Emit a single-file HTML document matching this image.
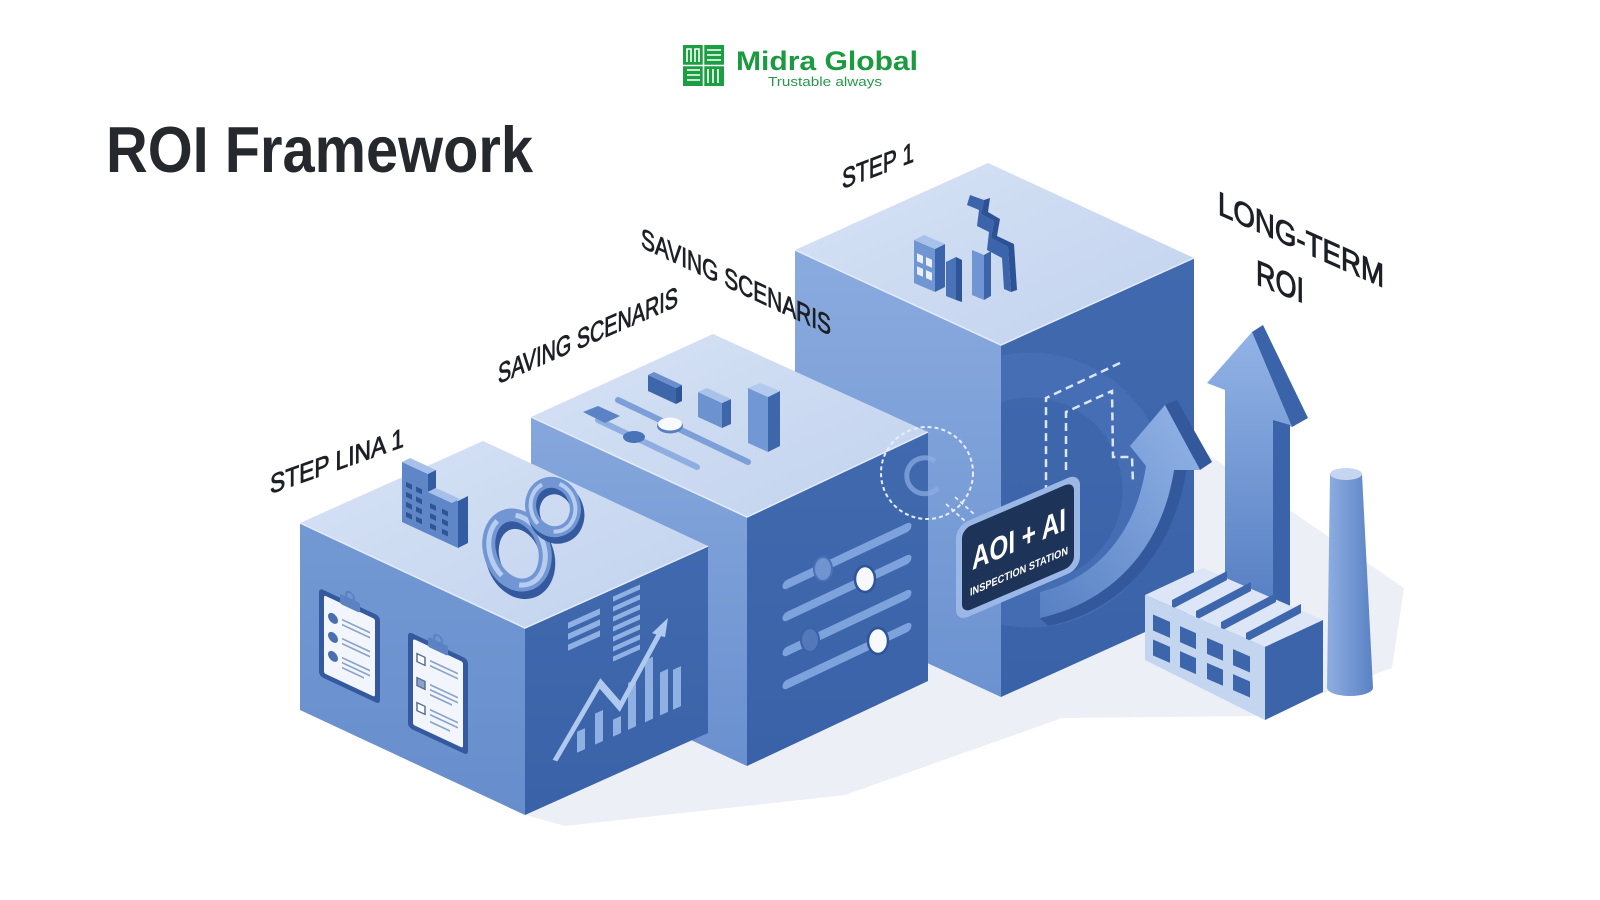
<!DOCTYPE html>
<html><head><meta charset="utf-8">
<style>
html,body{margin:0;padding:0;background:#ffffff;}
svg{display:block}
text{font-family:"Liberation Sans",Arial,sans-serif}
</style></head><body>
<svg width="1600" height="900" viewBox="0 0 1600 900" xmlns="http://www.w3.org/2000/svg">
<defs>
 <linearGradient id="g3l" x1="0" y1="0" x2="0" y2="1"><stop offset="0" stop-color="#8aabdf"/><stop offset="1" stop-color="#6c92d0"/></linearGradient>
 <linearGradient id="g2l" x1="0" y1="0" x2="0" y2="1"><stop offset="0" stop-color="#85a7dc"/><stop offset="1" stop-color="#6a90cf"/></linearGradient>
 <linearGradient id="gtop" x1="0" y1="0" x2="1" y2="1"><stop offset="0" stop-color="#d6e2f5"/><stop offset="1" stop-color="#c2d3ee"/></linearGradient>
 <linearGradient id="gR" x1="0" y1="0" x2="0" y2="1"><stop offset="0" stop-color="#4169ae"/><stop offset="1" stop-color="#3a62a8"/></linearGradient>
 <linearGradient id="gL" x1="0" y1="0" x2="0" y2="1"><stop offset="0" stop-color="#7399d4"/><stop offset="1" stop-color="#678dcc"/></linearGradient>
 <linearGradient id="garrow" x1="0" y1="0" x2="0" y2="1"><stop offset="0" stop-color="#92b3e6"/><stop offset="1" stop-color="#4d77bd"/></linearGradient>
 <linearGradient id="gcurve" x1="0" y1="1" x2="1" y2="0"><stop offset="0" stop-color="#5780c3"/><stop offset="1" stop-color="#93b4e7"/></linearGradient>
 <linearGradient id="gchim" x1="0" y1="0" x2="1" y2="0"><stop offset="0" stop-color="#8eaee1"/><stop offset="1" stop-color="#5a82c5"/></linearGradient>
 <clipPath id="c3r"><polygon points="1001,345 1194,258 1194,610 1001,697"/></clipPath>
</defs>

<!-- Logo -->
<rect x="683" y="45" width="41" height="41" fill="#1c9e43"/>
<g stroke="#ffffff" stroke-width="1.6" fill="none">
 <line x1="703.5" y1="45" x2="703.5" y2="86"/><line x1="683" y1="65.5" x2="724" y2="65.5"/>
 <path d="M687,62 V49 H691 V62 M695,62 V49 H699 V62"/>
 <path d="M707,50 H721 M707,55 H721 M707,60 H721"/>
 <path d="M687,70 H700 M687,75 H700 M687,80 H700"/>
 <path d="M708,69 V83 M713,69 V83 M718,69 V83"/>
</g>
<text x="736" y="70" font-size="27" font-weight="bold" fill="#1a9b40" textLength="182" lengthAdjust="spacingAndGlyphs">Midra Global</text>
<text x="768" y="86" font-size="13" fill="#25994a" textLength="114" lengthAdjust="spacingAndGlyphs">Trustable always</text>

<!-- Title -->
<text x="106" y="172" font-size="65" font-weight="bold" fill="#25292e" textLength="427" lengthAdjust="spacingAndGlyphs">ROI Framework</text>

<!-- Ground shadow -->
<polygon points="525,815 565,826 845,795 1062,718 1260,716 1392,668 1404,588 1194,445 1000,600 525,700" fill="#eceff5"/>

<!-- ===== BOX 3 (tall) ===== -->
<polygon points="795,250 988,163 1194,258 1001,345" fill="url(#gtop)"/>
<polygon points="795,250 1001,345 1001,697 795,602" fill="url(#g3l)"/>
<polygon points="1001,345 1194,258 1194,610 1001,697" fill="url(#gR)"/>
<polyline points="795,250 1001,345 1194,258" fill="none" stroke="#e4ecf9" stroke-width="1.5"/>
<g clip-path="url(#c3r)">
 <circle cx="1030" cy="490" r="115" fill="none" stroke="#4d76bb" stroke-width="45" opacity="0.5"/>
</g>
<!-- skyline on box3 top -->
<g>
 <polygon points="914,240 935,249 935,292 914,283" fill="#6f95d2"/>
 <polygon points="935,249 945,244 945,287 935,292" fill="#3c64aa"/>
 <polygon points="914,240 924,235 945,244 935,249" fill="#a8c1ea"/>
 <g transform="matrix(1,0.43,0,1,914,240)" fill="#e9f0fb">
  <rect x="3" y="12" width="6" height="8"/><rect x="12" y="12" width="6" height="8"/>
  <rect x="3" y="25" width="6" height="8"/><rect x="12" y="25" width="6" height="8"/>
 </g>
 <polygon points="946,262 956,257 956,300 946,296" fill="#4a72b7"/>
 <polygon points="956,257 962,260 962,302 956,300" fill="#2f5597"/>
 <polygon points="972,250 984,255 984,300 972,295" fill="#6f95d2"/>
 <polygon points="984,255 991,251 991,296 984,300" fill="#3c64aa"/>
 <polygon points="970,195 984,200 981,214 994,221 991,238 1008,247 1011,292 1004,289 1002,258 987,250 989,232 977,226 979,210 967,205" fill="#3c64aa"/>
 <polygon points="984,200 990,198 988,212 1000,219 997,236 1014,244 1017,290 1011,292 1008,247 991,238 994,221 981,214" fill="#2c5194"/>
</g>
<!-- dashed paths on box3 right -->
<g fill="none" stroke="#dbe6f7" stroke-width="2.5" stroke-dasharray="8 5">
 <path d="M1120,363 L1046,398 L1046,500"/>
 <path d="M1066,470 L1066,412 L1112,391 L1113,457 L1132,457 L1133,484"/>
</g>
<!-- curved arrow -->
<path d="M1174,470 L1187,466 C1174,560 1112,614 1048,626 L1040,618 C1100,605 1160,560 1174,470 Z" fill="#33589b"/>
<polygon points="1165,405 1177,400 1212,462 1200,470" fill="#33589b"/>
<path d="M1040,618 C1100,605 1160,560 1174,470 L1200,470 L1165,405 L1130,446 L1146,466 C1135,540 1090,580 1040,592 Z" fill="url(#gcurve)"/>

<!-- ===== Long-term arrow, chimney, factory ===== -->
<polygon points="1252,332 1207,383 1225,390 1225,650 1273,650 1273,420 1292,427" fill="url(#garrow)"/>
<polygon points="1252,332 1263,325 1308,418 1292,427" fill="#3a63a9"/>
<polygon points="1273,420 1290,425 1290,650 1273,650" fill="#3a63a9"/>

<path d="M1330,474 L1327,688 A23,8 0 0 0 1373,688 L1362,474 Z" fill="url(#gchim)"/>
<ellipse cx="1346" cy="474" rx="16" ry="6" fill="#c6d6f0"/>

<polygon points="1145,595 1265,647 1323,620 1203,568" fill="#dce6f7"/>
<g fill="#3d66ad">
 <polygon points="1172,600 1227,571 1227,580 1172,609"/>
 <polygon points="1196,611 1251,582 1251,591 1196,620"/>
 <polygon points="1221,622 1276,593 1276,602 1221,631"/>
 <polygon points="1246,633 1301,604 1301,613 1246,642"/>
</g>
<polygon points="1145,595 1265,647 1265,720 1145,660" fill="#c4d5ef"/>
<polygon points="1265,647 1323,620 1323,692 1265,720" fill="#3c64aa"/>
<g transform="matrix(1,0.433,0,1,1145,595)" fill="#3d65ab">
 <rect x="8" y="16" width="17" height="16"/><rect x="35" y="16" width="16" height="16"/><rect x="62" y="16" width="16" height="16"/><rect x="88" y="16" width="17" height="16"/>
 <rect x="8" y="41" width="17" height="16"/><rect x="35" y="41" width="16" height="16"/><rect x="62" y="41" width="16" height="16"/><rect x="88" y="41" width="17" height="16"/>
</g>

<!-- ===== BOX 2 ===== -->
<polygon points="531,417 713,334 928,432 747,517" fill="url(#gtop)"/>
<polygon points="531,417 747,517 747,766 531,666" fill="url(#g2l)"/>
<polygon points="747,517 928,432 928,681 747,766" fill="url(#gR)"/>
<polyline points="531,417 747,517 928,432" fill="none" stroke="#e4ecf9" stroke-width="1.5"/>
<!-- box2 top items -->
<line x1="618" y1="400" x2="748" y2="462" stroke="#7b9fd6" stroke-width="6" stroke-linecap="round"/>
<line x1="598" y1="420" x2="697" y2="467" stroke="#8eaee2" stroke-width="6" stroke-linecap="round"/>
<polygon points="583,412 598,406 620,416 605,423" fill="#5b82c4"/>
<ellipse cx="634" cy="437" rx="11" ry="6" fill="#4a72b8"/>
<ellipse cx="670" cy="426" rx="13" ry="7.5" fill="#5a7fc0"/>
<ellipse cx="670" cy="424" rx="12" ry="6.5" fill="#f8fafd"/>
<polygon points="648,375 676,388 676,404 648,391" fill="#3e66ab"/>
<polygon points="676,388 682,385 682,401 676,404" fill="#2f5596"/>
<polygon points="648,375 654,372 682,385 676,388" fill="#6a8fcc"/>
<polygon points="698,392 722,403 722,428 698,417" fill="#6c92d0"/>
<polygon points="722,403 731,399 731,424 722,428" fill="#3e66ab"/>
<polygon points="698,392 707,388 731,399 722,403" fill="#a9c2ea"/>
<polygon points="748,388 768,397 768,452 748,443" fill="#7198d4"/>
<polygon points="768,397 780,391 780,446 768,452" fill="#3e66ab"/>
<polygon points="748,388 760,383 780,391 768,397" fill="#b3caee"/>
<!-- box2 right sliders -->
<g transform="matrix(1,-0.47,0,1,747,517)" stroke="#7ea3dc" stroke-width="9" stroke-linecap="round">
 <line x1="40" y1="86" x2="160" y2="86"/>
 <line x1="40" y1="118" x2="160" y2="118"/>
 <line x1="40" y1="153" x2="160" y2="153"/>
 <line x1="40" y1="186" x2="160" y2="186"/>
</g>
<ellipse cx="823" cy="569" rx="9" ry="12" fill="#7094cf" stroke="#4a70b5" stroke-width="2"/>
<ellipse cx="865" cy="579" rx="10" ry="13" fill="#f7f9fc" stroke="#2f5596" stroke-width="2.5"/>
<ellipse cx="810" cy="640" rx="9" ry="12" fill="#5478ba" stroke="#3a62a8" stroke-width="2"/>
<ellipse cx="878" cy="641" rx="10" ry="13" fill="#f7f9fc" stroke="#2f5596" stroke-width="2.5"/>

<!-- ===== BOX 1 ===== -->
<polygon points="300,523 483,441 708,546 525,628" fill="url(#gtop)"/>
<polygon points="300,523 525,628 525,815 300,710" fill="url(#gL)"/>
<polygon points="525,628 708,546 708,733 525,815" fill="url(#gR)"/>
<polyline points="300,523 525,628 708,546" fill="none" stroke="#e4ecf9" stroke-width="1.5"/>
<!-- building on box1 top -->
<polygon points="402,462 428,474 428,492 452,503 452,498 458,501 458,548 402,522" fill="#5f86c7"/>
<polygon points="458,501 468,496 468,543 458,548" fill="#345ca2"/>
<polygon points="402,462 410,458 436,470 428,474" fill="#a6c0ea"/>
<polygon points="428,474 436,470 436,488 428,492" fill="#345ca2"/>
<polygon points="428,492 436,488 460,499 452,503" fill="#a6c0ea"/>
<g transform="matrix(1,0.467,0,1,402,466)" fill="#2f5597">
 <rect x="4" y="14" width="6" height="5"/><rect x="14" y="14" width="6" height="5"/>
 <rect x="4" y="24" width="6" height="5"/><rect x="14" y="24" width="6" height="5"/><rect x="28" y="24" width="6" height="5"/><rect x="40" y="24" width="6" height="5"/>
 <rect x="4" y="34" width="6" height="5"/><rect x="14" y="34" width="6" height="5"/><rect x="28" y="34" width="6" height="5"/><rect x="40" y="34" width="6" height="5"/>
 <rect x="4" y="44" width="6" height="5"/><rect x="14" y="44" width="6" height="5"/><rect x="28" y="44" width="6" height="5"/><rect x="40" y="44" width="6" height="5"/>
</g>
<!-- rings -->
<ellipse cx="520" cy="557" rx="27" ry="36" transform="rotate(-20 520 557)" fill="none" stroke="#34599e" stroke-width="14"/>
<ellipse cx="517" cy="550" rx="27" ry="36" transform="rotate(-20 517 550)" fill="none" stroke="#7196d3" stroke-width="13"/>
<ellipse cx="517" cy="550" rx="27" ry="36" transform="rotate(-20 517 550)" fill="none" stroke="#b7cdef" stroke-width="5" stroke-dasharray="60 20"/>
<ellipse cx="556" cy="513" rx="22" ry="25" transform="rotate(-20 556 513)" fill="none" stroke="#34599e" stroke-width="12"/>
<ellipse cx="553" cy="507" rx="22" ry="25" transform="rotate(-20 553 507)" fill="none" stroke="#7196d3" stroke-width="11"/>
<ellipse cx="553" cy="507" rx="22" ry="25" transform="rotate(-20 553 507)" fill="none" stroke="#b7cdef" stroke-width="4" stroke-dasharray="45 18"/>
<!-- clipboards on box1 left -->
<g transform="matrix(1,0.4667,0,1,300,523)">
 <rect x="19" y="56" width="61" height="88" rx="4" fill="#34599e"/>
 <rect x="24" y="61" width="51" height="78" rx="2" fill="#f2f6fc"/>
 <rect x="40" y="52" width="20" height="10" rx="2" fill="#5b82c3"/>
 <circle cx="50" cy="50" r="4" fill="none" stroke="#5b82c3" stroke-width="2"/>
 <circle cx="33" cy="80" r="5" fill="#4a6fb0"/><circle cx="33" cy="99" r="5" fill="#4a6fb0"/><circle cx="33" cy="118" r="5" fill="#4a6fb0"/>
 <g stroke="#8aa3c9" stroke-width="1.8">
  <line x1="42" y1="77" x2="70" y2="77"/><line x1="42" y1="82" x2="70" y2="82"/>
  <line x1="42" y1="96" x2="70" y2="96"/><line x1="42" y1="101" x2="70" y2="101"/>
  <line x1="42" y1="115" x2="70" y2="115"/><line x1="42" y1="120" x2="70" y2="120"/><line x1="42" y1="125" x2="64" y2="125"/>
 </g>
 <rect x="108" y="58" width="60" height="96" rx="4" fill="#34599e"/>
 <rect x="113" y="63" width="50" height="86" rx="2" fill="#f2f6fc"/>
 <rect x="128" y="54" width="20" height="10" rx="2" fill="#5b82c3"/>
 <circle cx="138" cy="52" r="4" fill="none" stroke="#5b82c3" stroke-width="2"/>
 <g fill="#ffffff" stroke="#5a6f95" stroke-width="1.5">
  <rect x="117" y="76" width="8" height="8"/><rect x="117" y="100" width="8" height="8" fill="#8aa3c9"/><rect x="117" y="125" width="8" height="8"/>
 </g>
 <g stroke="#8aa3c9" stroke-width="1.8">
  <line x1="130" y1="77" x2="158" y2="77"/><line x1="130" y1="82" x2="158" y2="82"/>
  <line x1="130" y1="101" x2="158" y2="101"/><line x1="130" y1="106" x2="158" y2="106"/><line x1="130" y1="111" x2="152" y2="111"/>
  <line x1="130" y1="126" x2="158" y2="126"/><line x1="130" y1="131" x2="158" y2="131"/><line x1="130" y1="138" x2="150" y2="138"/>
 </g>
</g>
<!-- chart on box1 right -->
<g transform="matrix(1,-0.448,0,1,525,628)" fill="#8fb0e2">
 <rect x="43" y="14" width="32" height="6"/><rect x="43" y="25" width="32" height="6"/><rect x="43" y="36" width="32" height="6"/>
 <rect x="88" y="8" width="27" height="5"/><rect x="88" y="18" width="27" height="5"/><rect x="88" y="28" width="27" height="5"/>
 <rect x="88" y="38" width="27" height="5"/><rect x="88" y="48" width="27" height="5"/><rect x="88" y="58" width="27" height="5"/><rect x="88" y="68" width="27" height="5"/>
 <rect x="52" y="127" width="8" height="21"/><rect x="70" y="117" width="8" height="31"/><rect x="88" y="131" width="8" height="17"/>
 <rect x="103" y="101" width="8" height="47"/><rect x="120" y="86" width="8" height="62"/><rect x="135" y="105" width="8" height="43"/><rect x="148" y="108" width="8" height="40"/>
 <polyline points="30,146 75,89 95,121 136,64" fill="none" stroke="#b0c9ef" stroke-width="6"/>
 <polygon points="143,54 140,72 127,62" fill="#b0c9ef"/>
</g>

<!-- dashed circle & connectors -->
<circle cx="927" cy="473" r="46" fill="none" stroke="#e6eefa" stroke-width="2" stroke-dasharray="4 3"/>
<path d="M935,461 A18,18 0 1 0 938,488" fill="none" stroke="#8eaee2" stroke-width="5" opacity="0.7"/>
<g stroke="#e6eefa" stroke-width="1.8" stroke-dasharray="4 3">
 <line x1="946" y1="504" x2="966" y2="522"/><line x1="955" y1="497" x2="974" y2="514"/>
</g>

<!-- AOI + AI label -->
<g transform="matrix(1,-0.43,0,1,956,526)">
 <rect x="0" y="0" width="124" height="96" rx="12" fill="#9ab7e6"/>
 <rect x="6" y="6" width="112" height="84" rx="9" fill="#1e3358"/>
 <text x="16" y="51" font-size="32" font-weight="bold" fill="#ffffff" textLength="94" lengthAdjust="spacingAndGlyphs">AOI + AI</text>
 <text x="14" y="76" font-size="11" font-weight="bold" fill="#ffffff" textLength="98" lengthAdjust="spacingAndGlyphs">INSPECTION STATION</text>
</g>

<!-- Step labels -->
<g fill="#1c2026" stroke="#1c2026" stroke-width="0.8">
 <text transform="translate(270,494) skewY(-19.5)" font-size="27" textLength="134" lengthAdjust="spacingAndGlyphs">STEP LINA 1</text>
 <text transform="translate(498,384) skewY(-23.5)" font-size="28" textLength="180" lengthAdjust="spacingAndGlyphs">SAVING SCENARIS</text>
 <text transform="translate(641,247) skewY(25)" font-size="28" textLength="190" lengthAdjust="spacingAndGlyphs">SAVING SCENARIS</text>
 <text transform="translate(842,189) skewY(-21)" font-size="28" textLength="72" lengthAdjust="spacingAndGlyphs">STEP 1</text>
 <text transform="translate(1218,214) skewY(24)" font-size="33" stroke-width="1" textLength="166" lengthAdjust="spacingAndGlyphs">LONG-TERM</text>
 <text transform="translate(1256,284) skewY(22)" font-size="35" stroke-width="1" textLength="48" lengthAdjust="spacingAndGlyphs">ROI</text>
</g>
</svg>
</body></html>
